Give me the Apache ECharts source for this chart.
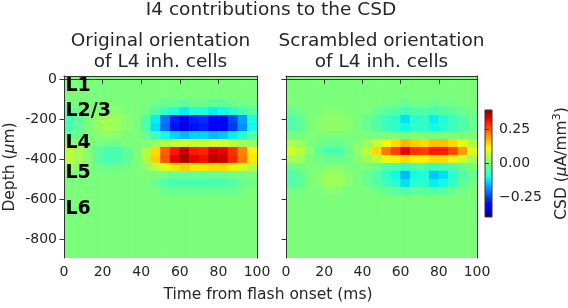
<!DOCTYPE html>
<html>
<head>
<meta charset="utf-8">
<script src="https://cdn.jsdelivr.net/npm/echarts@6/dist/echarts.min.js"></script>
<style>
  html, body { margin: 0; padding: 0; background: #fff; }
  #chart { width: 568px; height: 308px; }
</style>
</head>
<body>
<div id="chart"></div>
<script>
// time bins (ms, bin centres) and depth bins (um, bin centres)
const times = [2.5, 7.5, 12.5, 17.5, 22.5, 27.5, 32.5, 37.5, 42.5, 47.5, 52.5, 57.5, 62.5, 67.5, 72.5, 77.5, 82.5, 87.5, 92.5, 97.5];
const depths = [0, -40, -80, -120, -160, -200, -240, -280, -320, -360, -400, -440, -480, -520, -560, -600, -640, -680, -720, -760, -800, -840, -880];

// CSD (uA/mm^3), one row per depth, one column per time bin
const originalCsd = [
  [0, 0, 0, 0, 0, 0, 0, 0, 0, 0, 0, 0, 0, 0, 0, 0, 0, 0, 0, 0],
  [0, 0, 0, 0, 0, 0, 0, 0, 0, 0, 0, 0, 0, 0, 0, 0, 0, 0, 0, 0],
  [0, 0, 0, 0, 0, 0, 0, 0, 0, 0, 0, 0, 0, 0, 0, 0, 0, 0, 0, 0],
  [-0.01, 0, 0, 0, 0, 0, 0, 0, 0, -0.01, -0.02, -0.02, -0.03, -0.02, -0.02, -0.03, -0.03, -0.02, -0.01, -0.01],
  [-0.03, -0.02, 0, 0.01, 0.01, 0.01, 0, 0, -0.01, -0.04, -0.07, -0.09, -0.11, -0.09, -0.09, -0.11, -0.10, -0.08, -0.05, -0.03],
  [-0.05, -0.03, 0, 0.02, 0.04, 0.03, 0.01, 0, -0.04, -0.11, -0.20, -0.27, -0.31, -0.27, -0.26, -0.30, -0.29, -0.24, -0.17, -0.09],
  [-0.05, -0.03, 0, 0.02, 0.04, 0.03, 0.01, 0, -0.04, -0.12, -0.21, -0.28, -0.32, -0.28, -0.27, -0.31, -0.30, -0.25, -0.18, -0.10],
  [-0.03, -0.02, 0, 0.01, 0.02, 0.01, 0, 0, -0.02, -0.06, -0.10, -0.13, -0.15, -0.13, -0.13, -0.15, -0.14, -0.11, -0.08, -0.04],
  [0.02, 0.01, 0, 0, -0.01, -0.01, 0, 0, 0.01, 0.03, 0.05, 0.07, 0.08, 0.07, 0.07, 0.08, 0.08, 0.06, 0.04, 0.02],
  [0.06, 0.04, 0.01, -0.03, -0.05, -0.05, -0.03, 0, 0.05, 0.14, 0.24, 0.30, 0.34, 0.30, 0.29, 0.33, 0.32, 0.28, 0.21, 0.12],
  [0.06, 0.04, 0.01, -0.03, -0.05, -0.05, -0.03, 0, 0.05, 0.15, 0.25, 0.32, 0.36, 0.32, 0.31, 0.35, 0.34, 0.29, 0.22, 0.13],
  [0.03, 0.02, 0, -0.01, -0.02, -0.02, -0.01, 0, 0.02, 0.06, 0.10, 0.13, 0.15, 0.13, 0.13, 0.14, 0.14, 0.12, 0.09, 0.05],
  [0, 0, 0, 0, 0, 0, 0, 0, 0, 0, -0.01, -0.02, -0.02, -0.02, -0.02, -0.02, -0.02, -0.01, -0.01, 0],
  [0, 0, 0, 0, 0, 0, 0, 0, 0, -0.02, -0.04, -0.05, -0.05, -0.05, -0.05, -0.05, -0.05, -0.04, -0.02, -0.01],
  [0, 0, 0, 0, 0, 0, 0, 0, 0, 0, -0.02, -0.02, -0.02, -0.02, -0.02, -0.02, -0.02, -0.02, -0.01, 0],
  [0, 0, 0, 0, 0, 0, 0, 0, 0, 0, 0, 0, 0, 0, 0, 0, 0, 0, 0, 0],
  [0, 0, 0, 0, 0, 0, 0, 0, 0, 0, 0, 0, 0, 0, 0, 0, 0, 0, 0, 0],
  [0, 0, 0, 0, 0, 0, 0, 0, 0, 0, 0, 0, 0, 0, 0, 0, 0, 0, 0, 0],
  [0, 0, 0, 0, 0, 0, 0, 0, 0, 0, 0, 0, 0, 0, 0, 0, 0, 0, 0, 0],
  [0, 0, 0, 0, 0, 0, 0, 0, 0, 0, 0, 0, 0, 0, 0, 0, 0, 0, 0, 0],
  [0, 0, 0, 0, 0, 0, 0, 0, 0, 0, 0, 0, 0, 0, 0, 0, 0, 0, 0, 0],
  [0, 0, 0, 0, 0, 0, 0, 0, 0, 0, 0, 0, 0, 0, 0, 0, 0, 0, 0, 0],
  [0, 0, 0, 0, 0, 0, 0, 0, 0, 0, 0, 0, 0, 0, 0, 0, 0, 0, 0, 0]
];

const scrambledCsd = [
  [0, 0, 0, 0, 0, 0, 0, 0, 0, 0, 0, 0, 0, 0, 0, 0, 0, 0, 0, 0],
  [0, 0, 0, 0, 0, 0, 0, 0, 0, 0, 0, 0, 0, 0, 0, 0, 0, 0, 0, 0],
  [0, 0, 0, 0, 0, 0, 0, 0, 0, 0, 0, 0, 0, 0, 0, 0, 0, 0, 0, 0],
  [0, 0, 0, 0, 0, 0, 0, 0, 0, 0, -0.01, -0.01, -0.02, -0.01, -0.01, -0.02, -0.01, -0.01, 0, 0],
  [-0.02, -0.01, 0, 0, 0.01, 0.01, 0, 0, 0, -0.02, -0.03, -0.04, -0.06, -0.04, -0.04, -0.05, -0.04, -0.03, -0.02, -0.01],
  [-0.04, -0.03, 0, 0.01, 0.02, 0.02, 0.01, 0, -0.02, -0.04, -0.06, -0.08, -0.12, -0.08, -0.07, -0.11, -0.09, -0.06, -0.04, -0.02],
  [-0.04, -0.03, 0, 0.01, 0.02, 0.02, 0.01, 0, -0.02, -0.04, -0.06, -0.07, -0.10, -0.07, -0.07, -0.10, -0.08, -0.06, -0.04, -0.02],
  [-0.01, -0.01, 0, 0, 0, 0, 0, 0, 0, 0, 0, 0, -0.01, 0, 0, -0.01, 0, 0, 0, 0],
  [0.04, 0.03, 0, -0.01, -0.02, -0.02, -0.01, 0.01, 0.03, 0.07, 0.11, 0.14, 0.17, 0.15, 0.14, 0.16, 0.16, 0.14, 0.10, 0.05],
  [0.08, 0.06, 0.01, -0.03, -0.05, -0.05, -0.02, 0.02, 0.06, 0.14, 0.22, 0.27, 0.32, 0.28, 0.27, 0.30, 0.30, 0.26, 0.19, 0.09],
  [0.04, 0.03, 0, -0.01, -0.02, -0.02, -0.01, 0.01, 0.03, 0.06, 0.10, 0.12, 0.14, 0.12, 0.12, 0.14, 0.14, 0.12, 0.08, 0.04],
  [-0.02, -0.01, 0, 0, 0.01, 0.01, 0, 0, 0, -0.02, -0.04, -0.05, -0.07, -0.05, -0.05, -0.07, -0.06, -0.04, -0.02, 0],
  [-0.04, -0.03, 0, 0.01, 0.03, 0.03, 0.01, 0, -0.02, -0.04, -0.07, -0.10, -0.15, -0.10, -0.09, -0.14, -0.12, -0.08, -0.04, -0.02],
  [-0.04, -0.03, 0, 0.01, 0.03, 0.03, 0.01, 0, -0.02, -0.04, -0.06, -0.08, -0.12, -0.08, -0.08, -0.11, -0.10, -0.07, -0.03, -0.01],
  [-0.01, -0.01, 0, 0, 0.01, 0.01, 0, 0, 0, -0.01, -0.02, -0.03, -0.04, -0.03, -0.03, -0.04, -0.03, -0.02, -0.01, 0],
  [0, 0, 0, 0, 0, 0, 0, 0, 0, 0, 0, 0, 0, 0, 0, 0, 0, 0, 0, 0],
  [0, 0, 0, 0, 0, 0, 0, 0, 0, 0, 0, 0, 0, 0, 0, 0, 0, 0, 0, 0],
  [0, 0, 0, 0, 0, 0, 0, 0, 0, 0, 0, 0, 0, 0, 0, 0, 0, 0, 0, 0],
  [0, 0, 0, 0, 0, 0, 0, 0, 0, 0, 0, 0, 0, 0, 0, 0, 0, 0, 0, 0],
  [0, 0, 0, 0, 0, 0, 0, 0, 0, 0, 0, 0, 0, 0, 0, 0, 0, 0, 0, 0],
  [0, 0, 0, 0, 0, 0, 0, 0, 0, 0, 0, 0, 0, 0, 0, 0, 0, 0, 0, 0],
  [0, 0, 0, 0, 0, 0, 0, 0, 0, 0, 0, 0, 0, 0, 0, 0, 0, 0, 0, 0],
  [0, 0, 0, 0, 0, 0, 0, 0, 0, 0, 0, 0, 0, 0, 0, 0, 0, 0, 0, 0]
];

const layerNames = ['L1', 'L2/3', 'L4', 'L5', 'L6'];
const layerDepths = [-34, -160, -321, -471, -652];

const timeTicks = [0, 20, 40, 60, 80, 100];
const depthTicks = [0, -200, -400, -600, -800];
const csdTicks = [-0.25, 0, 0.25];
const csdRange = [-0.39, 0.39];

const FONT = 'DejaVu Sans';
const TXT = '#262626';
const FRAME = '#333';

// matplotlib "jet"
const jetSeg = {
  r: [[0, 0], [0.35, 0], [0.66, 1], [0.89, 1], [1, 0.5]],
  g: [[0, 0], [0.125, 0], [0.375, 1], [0.64, 1], [0.91, 0], [1, 0]],
  b: [[0, 0.5], [0.11, 1], [0.34, 1], [0.65, 0], [1, 0]]
};
function segVal(pts, t) {
  for (let i = 1; i < pts.length; i++) {
    if (t <= pts[i][0]) {
      const [x0, y0] = pts[i - 1], [x1, y1] = pts[i];
      return y0 + (y1 - y0) * (t - x0) / (x1 - x0);
    }
  }
  return pts[pts.length - 1][1];
}
function jet(t) {
  const c = ['r', 'g', 'b'].map(k => Math.round(255 * segVal(jetSeg[k], t)));
  return `rgb(${c[0]},${c[1]},${c[2]})`;
}
const jetColors = [];
for (let k = 0; k <= 64; k++) jetColors.push(jet(k / 64));

function toCells(grid) {
  const out = [];
  depths.forEach((d, i) => {
    times.forEach((t, j) => out.push([t, d, grid[i][j]]));
  });
  return out;
}

const dt = 5, dd = 40;
function renderCell(params, api) {
  const p0 = api.coord([api.value(0) - dt / 2, api.value(1) + dd / 2]);
  const p1 = api.coord([api.value(0) + dt / 2, api.value(1) - dd / 2]);
  const c = api.visual('color');
  return {
    type: 'rect',
    shape: { x: p0[0] - 0.3, y: p0[1] - 0.3, width: p1[0] - p0[0] + 0.6, height: p1[1] - p0[1] + 0.6 },
    style: { fill: c }
  };
}

function renderColorbar(params, api) {
  const p0 = api.coord([0, csdRange[1]]);
  const p1 = api.coord([1, csdRange[0]]);
  const stops = jetColors.map((c, k) => ({ offset: 1 - k / (jetColors.length - 1), color: c }));
  return {
    type: 'rect',
    shape: { x: p0[0], y: p0[1], width: p1[0] - p0[0], height: p1[1] - p0[1] },
    style: { fill: new echarts.graphic.LinearGradient(0, 0, 0, 1, stops), stroke: FRAME, lineWidth: 1 }
  };
}

const labelStyle = { color: TXT, fontFamily: FONT, fontSize: 14 };

function timeAxis(gridIndex) {
  return {
    gridIndex, type: 'value', min: 0, max: 100, interval: 20, z: 10,
    axisLine: { show: true, lineStyle: { color: FRAME, width: 1 } },
    axisTick: { show: true, length: 4.5, lineStyle: { color: FRAME } },
    axisLabel: Object.assign({ margin: 7, customValues: timeTicks }, labelStyle),
    splitLine: { show: false }
  };
}
function frameAxis(gridIndex, position, isY, min, max) {
  return {
    gridIndex, type: 'value', position, min, max, z: 10,
    axisLine: { show: true, onZero: false, lineStyle: { color: FRAME, width: 1 } },
    axisTick: { show: false }, axisLabel: { show: false }, splitLine: { show: false }
  };
}
function depthAxis(gridIndex, showLabels) {
  return {
    gridIndex, type: 'value', position: 'left', min: -895, max: 17, z: 10,
    axisLine: { show: true, onZero: false, lineStyle: { color: FRAME, width: 1 } },
    axisTick: { show: true, length: 4.5, customValues: depthTicks, lineStyle: { color: FRAME } },
    axisLabel: Object.assign({ show: showLabels, margin: 7, customValues: depthTicks }, labelStyle),
    splitLine: { show: false }
  };
}

const chart = echarts.init(document.getElementById('chart'), null, { renderer: 'canvas' });

const option = {
  animation: false,
  backgroundColor: '#fff',
  grid: [
    { left: 64, top: 76, width: 193, height: 182, outerBoundsMode: 'none' },
    { left: 286, top: 76, width: 191, height: 182, outerBoundsMode: 'none' },
    { left: 485, top: 110, width: 7, height: 107, outerBoundsMode: 'none' }
  ],
  visualMap: {
    type: 'continuous', show: false, dimension: 2, seriesIndex: [0, 1],
    min: csdRange[0], max: csdRange[1], inRange: { color: jetColors }
  },
  xAxis: [
    Object.assign(timeAxis(0), { position: 'bottom' }),
    frameAxis(0, 'top', false, 0, 100),
    Object.assign(timeAxis(1), { position: 'bottom' }),
    frameAxis(1, 'top', false, 0, 100),
    { gridIndex: 2, type: 'value', min: 0, max: 1, show: false }
  ],
  yAxis: [
    Object.assign(depthAxis(0, true), {
      name: '{t|Depth (}{i|\u03bc}{t|m)}',
      nameLocation: 'middle', nameRotate: 90, nameGap: 46,
      nameTextStyle: {
        rich: {
          t: { fontFamily: FONT, fontSize: 15.5, color: TXT },
          i: { fontFamily: FONT, fontSize: 15.5, color: TXT, fontStyle: 'italic' }
        }
      }
    }),
    frameAxis(0, 'right', true, -895, 17),
    depthAxis(1, false),
    frameAxis(1, 'right', true, -895, 17),
    {
      gridIndex: 2, type: 'value', position: 'right', min: csdRange[0], max: csdRange[1], z: 10,
      axisLine: { show: false },
      axisTick: { show: true, length: 4, customValues: csdTicks, lineStyle: { color: FRAME } },
      axisLabel: Object.assign({
        margin: 7, customValues: csdTicks,
        formatter: v => v.toFixed(2).replace('-', '\u2212')
      }, labelStyle),
      splitLine: { show: false },
      name: '{t|CSD (}{i|\u03bc}{t|A/mm}{s|3}{t|)}',
      nameLocation: 'middle', nameRotate: 90, nameGap: 60,
      nameTextStyle: {
        rich: {
          t: { fontFamily: FONT, fontSize: 15.5, color: TXT },
          i: { fontFamily: FONT, fontSize: 15.5, color: TXT, fontStyle: 'italic' },
          s: { fontFamily: FONT, fontSize: 11, color: TXT, verticalAlign: 'top', padding: [0, 0, 8, 0] }
        }
      }
    }
  ],
  graphic: [
    { type: 'text', x: 271, y: 10, style: { text: 'I4 contributions to the CSD', fill: TXT, font: `18.5px "${FONT}"`, textAlign: 'center', textVerticalAlign: 'middle', align: 'center', verticalAlign: 'middle' } },
    { type: 'text', x: 160.5, y: 41, style: { text: 'Original orientation', fill: TXT, font: `18.5px "${FONT}"`, textAlign: 'center', textVerticalAlign: 'middle', align: 'center', verticalAlign: 'middle' } },
    { type: 'text', x: 160.5, y: 62.5, style: { text: 'of L4 inh. cells', fill: TXT, font: `18.5px "${FONT}"`, textAlign: 'center', textVerticalAlign: 'middle', align: 'center', verticalAlign: 'middle' } },
    { type: 'text', x: 381.5, y: 41, style: { text: 'Scrambled orientation', fill: TXT, font: `18.5px "${FONT}"`, textAlign: 'center', textVerticalAlign: 'middle', align: 'center', verticalAlign: 'middle' } },
    { type: 'text', x: 381.5, y: 62.5, style: { text: 'of L4 inh. cells', fill: TXT, font: `18.5px "${FONT}"`, textAlign: 'center', textVerticalAlign: 'middle', align: 'center', verticalAlign: 'middle' } },
    { type: 'text', x: 268, y: 295, style: { text: 'Time from flash onset (ms)', fill: TXT, font: `15.5px "${FONT}"`, textAlign: 'center', textVerticalAlign: 'middle', align: 'center', verticalAlign: 'middle' } }
  ],
  series: [
    {
      type: 'custom', name: 'original', xAxisIndex: 0, yAxisIndex: 0, clip: true,
      renderItem: renderCell, encode: { x: 0, y: 1 }, data: toCells(originalCsd)
    },
    {
      type: 'custom', name: 'scrambled', xAxisIndex: 2, yAxisIndex: 2, clip: true,
      renderItem: renderCell, encode: { x: 0, y: 1 }, data: toCells(scrambledCsd)
    },
    {
      type: 'custom', name: 'colorbar', xAxisIndex: 4, yAxisIndex: 4,
      renderItem: renderColorbar, data: [[0, csdRange[0], csdRange[1]]]
    },
    {
      type: 'scatter', name: 'layers', xAxisIndex: 0, yAxisIndex: 0, z: 20,
      symbolSize: 0,
      data: layerDepths.map((d, i) => ({ value: [0, d], name: layerNames[i] })),
      label: {
        show: true, position: 'right', distance: 1.5, formatter: p => p.name,
        fontFamily: FONT, fontSize: 19, fontWeight: 'bold', color: '#000', opacity: 1,
        textBorderWidth: 0
      },
      silent: true
    }
  ]
};

chart.setOption(option);
</script>
</body>
</html>
